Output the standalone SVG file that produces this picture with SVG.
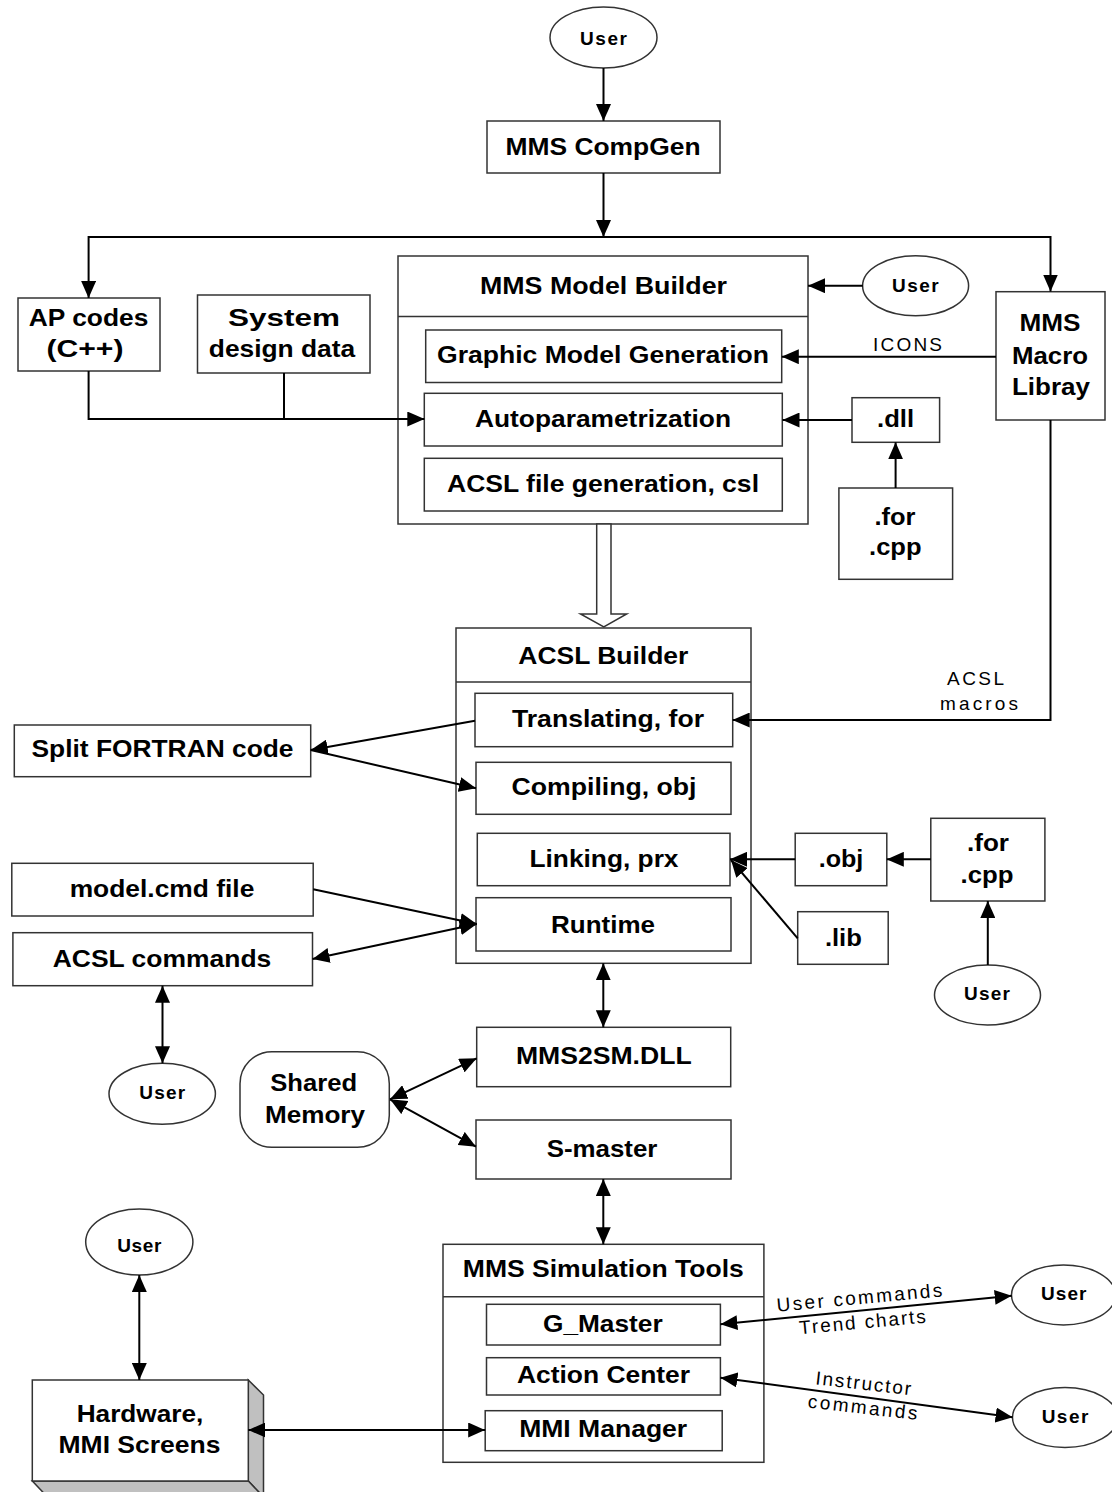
<svg xmlns="http://www.w3.org/2000/svg" width="1112" height="1492" viewBox="0 0 1112 1492">
<style>
.box{fill:#fff;stroke:#333;stroke-width:1.5}
.sh{fill:#c0c0c0;stroke:#333;stroke-width:1.5}
.t{font-family:"Liberation Sans",Arial,Helvetica,sans-serif;font-weight:bold;font-size:24px;text-anchor:middle;fill:#000}
.u{font-size:19px}
.r{font-family:"Liberation Sans",Arial,Helvetica,sans-serif;font-weight:normal;font-size:19px;text-anchor:middle;fill:#000}
.c{stroke:#000;stroke-width:2;fill:none}
.a{marker-end:url(#ah)}
.b{marker-start:url(#ah);marker-end:url(#ah)}
</style>
<defs>
<marker id="ah" viewBox="0 0 17 15" refX="17" refY="7.5" markerWidth="17" markerHeight="15" markerUnits="userSpaceOnUse" orient="auto-start-reverse">
<path d="M0,0 L17,7.5 L0,15 z" fill="#000"/>
</marker>
</defs>
<rect width="1112" height="1492" fill="#fff"/>

<g id="user-top">
<ellipse class="box" cx="603.5" cy="37.5" rx="53.5" ry="30.5"/>
<text class="t u" x="603.5" y="44.5" textLength="47">User</text>
</g>
<g id="compgen">
<rect class="box" x="487" y="121" width="233" height="52"/>
<text class="t" x="603" y="155" font-size="30" textLength="195" lengthAdjust="spacingAndGlyphs">MMS CompGen</text>
</g>
<g id="ap-codes">
<rect class="box" x="18" y="298" width="142" height="73"/>
<text class="t" x="88.5" y="326" textLength="119.6" lengthAdjust="spacingAndGlyphs">AP codes</text>
<text class="t" x="85" y="357" textLength="77" lengthAdjust="spacingAndGlyphs">(C++)</text>
</g>
<g id="system-design">
<rect class="box" x="197.5" y="295" width="172.5" height="78"/>
<text class="t" x="284" y="326" textLength="112" lengthAdjust="spacingAndGlyphs">System</text>
<text class="t" x="282" y="357.3" textLength="146.4" lengthAdjust="spacingAndGlyphs">design data</text>
</g>
<g id="model-builder">
<rect class="box" x="398" y="256" width="410" height="268"/>
<line class="box" x1="398" y1="316.5" x2="808" y2="316.5"/>
<text class="t" x="603.5" y="294" textLength="247" lengthAdjust="spacingAndGlyphs">MMS Model Builder</text>
<rect class="box" x="425.7" y="330" width="356" height="52.5"/>
<text class="t" x="603" y="363.3" textLength="332" lengthAdjust="spacingAndGlyphs">Graphic Model Generation</text>
<rect class="box" x="424.3" y="393.3" width="358" height="52.7"/>
<text class="t" x="603" y="426.7" textLength="256" lengthAdjust="spacingAndGlyphs">Autoparametrization</text>
<rect class="box" x="424.3" y="458.3" width="358" height="52.7"/>
<text class="t" x="603" y="492" textLength="312" lengthAdjust="spacingAndGlyphs">ACSL file generation, csl</text>
</g>
<g id="user-mb">
<ellipse class="box" cx="915.6" cy="285.8" rx="53" ry="30"/>
<text class="t u" x="915.3" y="291.7" textLength="46.5">User</text>
</g>
<g id="macro-library">
<rect class="box" x="996" y="291.7" width="109" height="128.3"/>
<text class="t" x="1050" y="331" font-size="23" textLength="61" lengthAdjust="spacingAndGlyphs">MMS</text>
<text class="t" x="1050" y="364" font-size="23" textLength="76" lengthAdjust="spacingAndGlyphs">Macro</text>
<text class="t" x="1051" y="395" font-size="23" textLength="78" lengthAdjust="spacingAndGlyphs">Libray</text>
</g>
<g id="dll">
<rect class="box" x="852" y="397.7" width="87.6" height="44.6"/>
<text class="t" x="895.6" y="426.7" textLength="37" lengthAdjust="spacingAndGlyphs">.dll</text>
</g>
<g id="for-cpp-1">
<rect class="box" x="838.9" y="488" width="113.7" height="91.3"/>
<text class="t" x="895" y="525" textLength="41" lengthAdjust="spacingAndGlyphs">.for</text>
<text class="t" x="895.3" y="555" textLength="52.5" lengthAdjust="spacingAndGlyphs">.cpp</text>
</g>
<g id="acsl-builder">
<rect class="box" x="456" y="628" width="295" height="335.3"/>
<line class="box" x1="456" y1="682" x2="751" y2="682"/>
<text class="t" x="603.3" y="664" textLength="170" lengthAdjust="spacingAndGlyphs">ACSL Builder</text>
<rect class="box" x="475" y="693.3" width="257.7" height="53.4"/>
<text class="t" x="608" y="727.3" textLength="192" lengthAdjust="spacingAndGlyphs">Translating, for</text>
<rect class="box" x="476" y="762.3" width="255" height="52"/>
<text class="t" x="604" y="795" textLength="185" lengthAdjust="spacingAndGlyphs">Compiling, obj</text>
<rect class="box" x="477.3" y="833.3" width="252.7" height="52.4"/>
<text class="t" x="604" y="866.7" textLength="149" lengthAdjust="spacingAndGlyphs">Linking, prx</text>
<rect class="box" x="476" y="897.7" width="255" height="53.3"/>
<text class="t" x="603" y="932.7" textLength="104" lengthAdjust="spacingAndGlyphs">Runtime</text>
</g>
<g id="split-fortran">
<rect class="box" x="14.3" y="725" width="296.4" height="51.7"/>
<text class="t" x="162.5" y="757.3" textLength="262" lengthAdjust="spacingAndGlyphs">Split FORTRAN code</text>
</g>
<g id="model-cmd">
<rect class="box" x="11.8" y="863.3" width="301.4" height="52.7"/>
<text class="t" x="162" y="896.7" textLength="184.7" lengthAdjust="spacingAndGlyphs">model.cmd file</text>
</g>
<g id="acsl-commands">
<rect class="box" x="12.9" y="932.7" width="299.6" height="53"/>
<text class="t" x="162" y="966.7" textLength="218.6" lengthAdjust="spacingAndGlyphs">ACSL commands</text>
</g>
<g id="obj">
<rect class="box" x="795.2" y="833.3" width="91.6" height="52.4"/>
<text class="t" x="841" y="866.7" textLength="44.7" lengthAdjust="spacingAndGlyphs">.obj</text>
</g>
<g id="for-cpp-2">
<rect class="box" x="930.8" y="818.3" width="114.1" height="82.7"/>
<text class="t" x="988" y="850.7" textLength="42" lengthAdjust="spacingAndGlyphs">.for</text>
<text class="t" x="987" y="882.7" textLength="53" lengthAdjust="spacingAndGlyphs">.cpp</text>
</g>
<g id="lib">
<rect class="box" x="797.7" y="911.7" width="90.5" height="52.6"/>
<text class="t" x="843.4" y="945.7" textLength="37" lengthAdjust="spacingAndGlyphs">.lib</text>
</g>
<g id="user-for">
<ellipse class="box" cx="987.5" cy="995" rx="53" ry="30"/>
<text class="t u" x="987" y="1000" textLength="46">User</text>
</g>
<g id="user-left">
<ellipse class="box" cx="162.2" cy="1093.8" rx="53.2" ry="30.5"/>
<text class="t u" x="162.2" y="1099.3" textLength="45.7">User</text>
</g>
<g id="shared-memory">
<rect class="box" x="240" y="1051.7" width="149.3" height="95.6" rx="32" ry="32"/>
<text class="t" x="313.7" y="1090.7" textLength="86.8" lengthAdjust="spacingAndGlyphs">Shared</text>
<text class="t" x="315" y="1122.7" textLength="100" lengthAdjust="spacingAndGlyphs">Memory</text>
</g>
<g id="mms2sm">
<rect class="box" x="476.7" y="1027.3" width="254" height="59.4"/>
<text class="t" x="603.8" y="1064" textLength="175.7" lengthAdjust="spacingAndGlyphs">MMS2SM.DLL</text>
</g>
<g id="s-master">
<rect class="box" x="476" y="1120" width="255" height="59"/>
<text class="t" x="602" y="1156.7" textLength="110.7" lengthAdjust="spacingAndGlyphs">S-master</text>
</g>
<g id="user-hw">
<ellipse class="box" cx="139.3" cy="1242" rx="53.6" ry="33"/>
<text class="t u" x="139.3" y="1251.7" textLength="44.3">User</text>
</g>
<g id="hardware">
<polygon class="sh" points="248.3,1380 263.5,1395 263.5,1497 248.3,1481"/>
<polygon class="sh" points="32.3,1481 248.3,1481 263.5,1497 47.5,1497"/>
<rect class="box" x="32.3" y="1380" width="216" height="101"/>
<text class="t" x="140" y="1421.7" textLength="126.7" lengthAdjust="spacingAndGlyphs">Hardware,</text>
<text class="t" x="139.5" y="1453" textLength="162" lengthAdjust="spacingAndGlyphs">MMI Screens</text>
</g>
<g id="sim-tools">
<rect class="box" x="443" y="1244.3" width="320.9" height="218"/>
<line class="box" x1="443" y1="1296.7" x2="763.9" y2="1296.7"/>
<text class="t" x="603.3" y="1277.3" textLength="281" lengthAdjust="spacingAndGlyphs">MMS Simulation Tools</text>
<rect class="box" x="486.5" y="1304.3" width="233.9" height="40.7"/>
<text class="t" x="602.8" y="1331.7" textLength="119.6" lengthAdjust="spacingAndGlyphs">G_Master</text>
<rect class="box" x="486.5" y="1357.7" width="233.9" height="37.3"/>
<text class="t" x="603.5" y="1383.3" textLength="173" lengthAdjust="spacingAndGlyphs">Action Center</text>
<rect class="box" x="485.2" y="1410.7" width="237" height="40"/>
<text class="t" x="603.2" y="1437.3" textLength="168" lengthAdjust="spacingAndGlyphs">MMI Manager</text>
</g>
<g id="user-gmaster">
<ellipse class="box" cx="1063.5" cy="1295" rx="52" ry="30"/>
<text class="t u" x="1063.7" y="1300" textLength="45.6">User</text>
</g>
<g id="user-action">
<ellipse class="box" cx="1065" cy="1417.5" rx="52.5" ry="30"/>
<text class="t u" x="1065" y="1422.7" textLength="46.7">User</text>
</g>

<g id="connectors">
<line class="c a" x1="603.5" y1="68" x2="603.5" y2="121"/>
<line class="c a" x1="603.5" y1="173" x2="603.5" y2="237"/>
<polyline class="c a" points="88.6,237 1050.5,237 1050.5,291.5"/>
<line class="c a" x1="88.6" y1="236" x2="88.6" y2="298"/>
<polyline class="c a" points="88.6,371 88.6,419 424.3,419"/>
<polyline class="c" points="284,373 284,419"/>
<line class="c a" x1="862.8" y1="285.7" x2="808" y2="285.7"/>
<line class="c a" x1="996" y1="356.7" x2="781.8" y2="356.7"/>
<line class="c a" x1="852" y1="420" x2="782.5" y2="420"/>
<line class="c a" x1="895.6" y1="488" x2="895.6" y2="442.3"/>
<polyline class="c a" points="1050.5,420 1050.5,720 732.7,720"/>
<line class="c a" x1="475" y1="720.7" x2="310.7" y2="750"/>
<line class="c a" x1="310.7" y1="750" x2="476" y2="788.3"/>
<line class="c a" x1="313.2" y1="889.3" x2="476.8" y2="924"/>
<line class="c b" x1="312.5" y1="959" x2="476.8" y2="924"/>
<line class="c a" x1="795.2" y1="859.3" x2="730" y2="859.3"/>
<line class="c a" x1="930.8" y1="859.3" x2="886.8" y2="859.3"/>
<line class="c a" x1="797.7" y1="938.3" x2="731" y2="860"/>
<line class="c a" x1="987.8" y1="965" x2="987.8" y2="901"/>
<line class="c b" x1="603.3" y1="963.3" x2="603.3" y2="1027.3"/>
<line class="c b" x1="390" y1="1099.3" x2="476.7" y2="1058.3"/>
<line class="c b" x1="390" y1="1099.3" x2="476" y2="1146.7"/>
<line class="c b" x1="603.3" y1="1179" x2="603.3" y2="1244.3"/>
<line class="c b" x1="162.5" y1="985.7" x2="162.5" y2="1063.3"/>
<line class="c b" x1="139.3" y1="1275" x2="139.3" y2="1380"/>
<line class="c b" x1="248.3" y1="1430" x2="485.2" y2="1430"/>
<line class="c b" x1="720.4" y1="1324.3" x2="1011.7" y2="1295.7"/>
<line class="c b" x1="720.4" y1="1377.7" x2="1012.6" y2="1417.3"/>
<polygon class="box" points="596.7,524 611,524 611,614 626.7,614 603.8,627 580.5,614 596.7,614"/>
<text class="r" x="907.5" y="351" textLength="69">ICONS</text>
<text class="r" x="975.5" y="685" textLength="57">ACSL</text>
<text class="r" x="979" y="710" textLength="78">macros</text>
<text class="r" x="860" y="1304" textLength="166" transform="rotate(-5.3 860 1304)">User commands</text>
<text class="r" x="863" y="1328.4" textLength="127" transform="rotate(-5.3 863 1328.4)">Trend charts</text>
<text class="r" x="862.6" y="1389.7" textLength="96" transform="rotate(6.5 862.6 1389.7)">Instructor</text>
<text class="r" x="862" y="1413.7" textLength="110" transform="rotate(6.5 862 1413.7)">commands</text>
</g>
</svg>
